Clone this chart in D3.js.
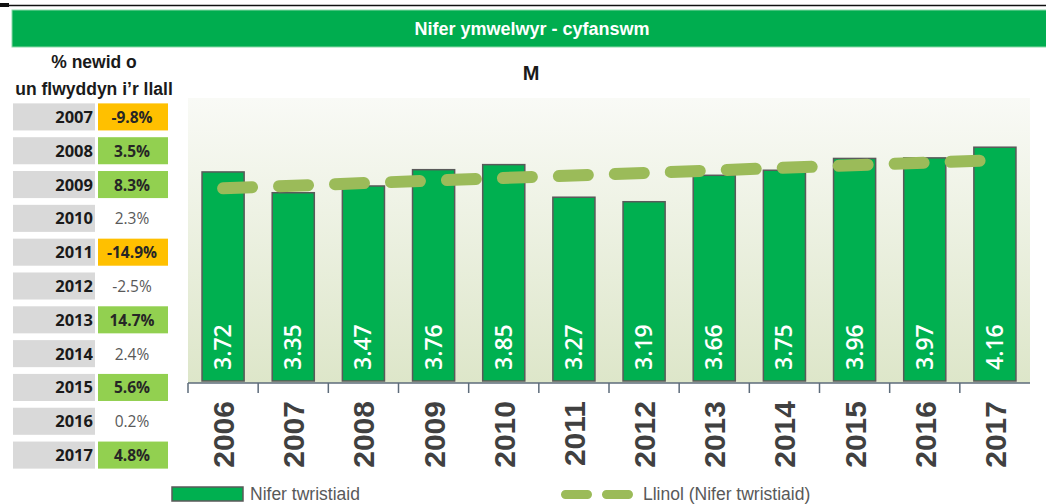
<!DOCTYPE html>
<html>
<head>
<meta charset="utf-8">
<script src="https://cdn.jsdelivr.net/npm/d3@7"></script>
<style>
  html, body { margin: 0; padding: 0; background: #fff; }
  svg { display: block; }
</style>
</head>
<body>
<svg id="chart" width="1046" height="504"></svg>
<script>
// chart data
const years = ["2006", "2007", "2008", "2009", "2010", "2011", "2012", "2013", "2014", "2015", "2016", "2017"];
const visitors = [3.72, 3.35, 3.47, 3.76, 3.85, 3.27, 3.19, 3.66, 3.75, 3.96, 3.97, 4.16];
// linear trend, read at first and last year
const trendEnds = [3.43, 3.93];

// change table
const changeYears = ["2007", "2008", "2009", "2010", "2011", "2012", "2013", "2014", "2015", "2016", "2017"];
const changeLabels = ["-9.8%", "3.5%", "8.3%", "2.3%", "-14.9%", "-2.5%", "14.7%", "2.4%", "5.6%", "0.2%", "4.8%"];
const changeKind = ["down", "up", "up", "flat", "down", "flat", "up", "flat", "up", "flat", "up"];

const title = "Nifer ymwelwyr - cyfanswm";
const unitLabel = "M";
const tableTitle = ["% newid o", "un flwyddyn i\u2019r llall"];
const seriesName = "Nifer twristiaid";
const trendName = "Llinol (Nifer twristiaid)";

const svg = d3.select("#chart");
const arial = "'Liberation Sans', Arial, sans-serif";
const calibri = "'Open Sans', Lato, sans-serif";

// top rule
svg.append("line")
  .attr("x1", 0).attr("x2", 1046).attr("y1", 5.5).attr("y2", 5.5)
  .attr("stroke", "#111").attr("stroke-width", 1.5);
svg.append("rect")
  .attr("x", 0).attr("y", 3).attr("width", 9).attr("height", 4)
  .attr("fill", "#111");

// title band
svg.append("rect")
  .attr("x", 12).attr("y", 10).attr("width", 1040).attr("height", 37)
  .attr("fill", "#00ad4f").attr("stroke", "#8bd9a9").attr("stroke-width", 1);
svg.append("text")
  .attr("x", 532).attr("y", 35)
  .attr("text-anchor", "middle")
  .attr("font-family", arial).attr("font-weight", "bold").attr("font-size", 18)
  .attr("fill", "#fff")
  .text(title);

// unit label
svg.append("text")
  .attr("x", 531).attr("y", 80)
  .attr("text-anchor", "middle")
  .attr("font-family", arial).attr("font-weight", "bold").attr("font-size", 20)
  .attr("fill", "#1a1a1a")
  .text(unitLabel);

// left table
svg.selectAll("text.ttitle")
  .data(tableTitle)
  .enter().append("text")
  .attr("class", "ttitle")
  .attr("x", 94)
  .attr("y", (d, i) => 68 + i * 27)
  .attr("text-anchor", "middle")
  .attr("font-family", arial).attr("font-weight", "bold").attr("font-size", 17.5)
  .attr("fill", "#1a1a1a")
  .text(d => d);

const rowY = d3.scaleBand()
  .domain(changeYears)
  .range([100, 472])
  .paddingInner(0.2)
  .paddingOuter(0.1);

const cellFill = { down: "#ffc000", up: "#92d050", flat: "#ffffff" };

const rows = svg.selectAll("g.row")
  .data(changeYears)
  .enter().append("g")
  .attr("class", "row")
  .attr("transform", d => "translate(0," + rowY(d) + ")");

rows.append("rect")
  .attr("x", 13).attr("width", 82)
  .attr("height", rowY.bandwidth())
  .attr("fill", "#d9d9d9");
rows.append("rect")
  .attr("x", 98).attr("width", 70)
  .attr("height", rowY.bandwidth())
  .attr("fill", (d, i) => cellFill[changeKind[i]]);
rows.append("text")
  .attr("x", 93)
  .attr("y", rowY.bandwidth() / 2 + 6)
  .attr("text-anchor", "end")
  .attr("font-family", calibri).attr("font-weight", "bold").attr("font-size", 16.5)
  .attr("fill", "#1a1a1a")
  .text(d => d);
rows.append("text")
  .attr("x", 132)
  .attr("y", rowY.bandwidth() / 2 + 6)
  .attr("text-anchor", "middle")
  .attr("font-family", calibri)
  .attr("font-weight", (d, i) => changeKind[i] === "flat" ? "normal" : "bold")
  .attr("font-size", 15.5)
  .attr("fill", (d, i) => changeKind[i] === "flat" ? "#595959" : "#262626")
  .text((d, i) => changeLabels[i]);

// plot area
const plot = { left: 188, right: 1030, top: 98, bottom: 381 };

const x = d3.scaleBand()
  .domain(years)
  .range([plot.left, plot.right])
  .paddingInner(0.4)
  .paddingOuter(0.2);
const y = d3.scaleLinear()
  .domain([0, 5])
  .range([plot.bottom, 100]);

const defs = svg.append("defs");
const grad = defs.append("linearGradient")
  .attr("id", "plotbg")
  .attr("x1", 0).attr("y1", 0).attr("x2", 0).attr("y2", 1);
grad.append("stop").attr("offset", "0%").attr("stop-color", "#f9faf6");
grad.append("stop").attr("offset", "100%").attr("stop-color", "#dde6c9");

svg.append("rect")
  .attr("x", plot.left).attr("y", plot.top)
  .attr("width", plot.right - plot.left)
  .attr("height", plot.bottom - plot.top + 2)
  .attr("fill", "url(#plotbg)");

// bars
svg.selectAll("rect.bar")
  .data(visitors)
  .enter().append("rect")
  .attr("class", "bar")
  .attr("x", (d, i) => x(years[i]))
  .attr("width", x.bandwidth())
  .attr("y", d => y(d))
  .attr("height", d => y(0) - y(d))
  .attr("fill", "#00b050")
  .attr("stroke", "#5a5a5a")
  .attr("stroke-width", 1.5);

// bar values
svg.selectAll("text.val")
  .data(visitors)
  .enter().append("text")
  .attr("class", "val")
  .attr("transform", (d, i) => "translate(" + (x(years[i]) + x.bandwidth() / 2 + 8) + "," + (y(0) - 11) + ") rotate(-90)")
  .attr("font-family", calibri).attr("font-size", 23).attr("font-weight", 600)
  .attr("fill", "#fff")
  .text(d => d.toFixed(2));

// trend line
const half = x.bandwidth() / 2;
svg.append("line")
  .attr("x1", x(years[0]) + half)
  .attr("x2", x(years[years.length - 1]) + half)
  .attr("y1", y(trendEnds[0]))
  .attr("y2", y(trendEnds[1]))
  .attr("stroke", "#9bbb59")
  .attr("stroke-width", 12)
  .attr("stroke-linecap", "round")
  .attr("stroke-dasharray", "29,27");

// x axis
const axisY = 383;
const step = x.step();
const gap = step * x.paddingInner() / 2;
const axisColor = "#5d6b7a";
svg.append("line")
  .attr("x1", plot.left).attr("x2", plot.right)
  .attr("y1", axisY).attr("y2", axisY)
  .attr("stroke", axisColor).attr("stroke-width", 1.5);
svg.selectAll("line.tick")
  .data(years)
  .enter().append("line")
  .attr("class", "tick")
  .attr("x1", d => x(d) - gap).attr("x2", d => x(d) - gap)
  .attr("y1", axisY).attr("y2", axisY + 10)
  .attr("stroke", axisColor).attr("stroke-width", 1.5);
svg.selectAll("text.year")
  .data(years)
  .enter().append("text")
  .attr("class", "year")
  .attr("transform", d => "translate(" + (x(d) + half + 11) + "," + 401 + ") rotate(-90)")
  .attr("text-anchor", "end")
  .attr("font-family", arial).attr("font-weight", "bold").attr("font-size", 30)
  .attr("fill", "#404040")
  .text(d => d);

// legend
svg.append("rect")
  .attr("x", 172).attr("y", 487).attr("width", 71).attr("height", 14)
  .attr("fill", "#00b050").attr("stroke", "#5a5a5a").attr("stroke-width", 1.5);
svg.append("text")
  .attr("x", 250).attr("y", 500)
  .attr("font-family", arial).attr("font-size", 17.5)
  .attr("fill", "#595959")
  .text(seriesName);
svg.append("line")
  .attr("x1", 565.5).attr("x2", 629)
  .attr("y1", 494.5).attr("y2", 494.5)
  .attr("stroke", "#9bbb59").attr("stroke-width", 9)
  .attr("stroke-linecap", "round")
  .attr("stroke-dasharray", "22,19");
svg.append("text")
  .attr("x", 643).attr("y", 500)
  .attr("font-family", arial).attr("font-size", 17.5)
  .attr("fill", "#595959")
  .text(trendName);
</script>
</body>
</html>
